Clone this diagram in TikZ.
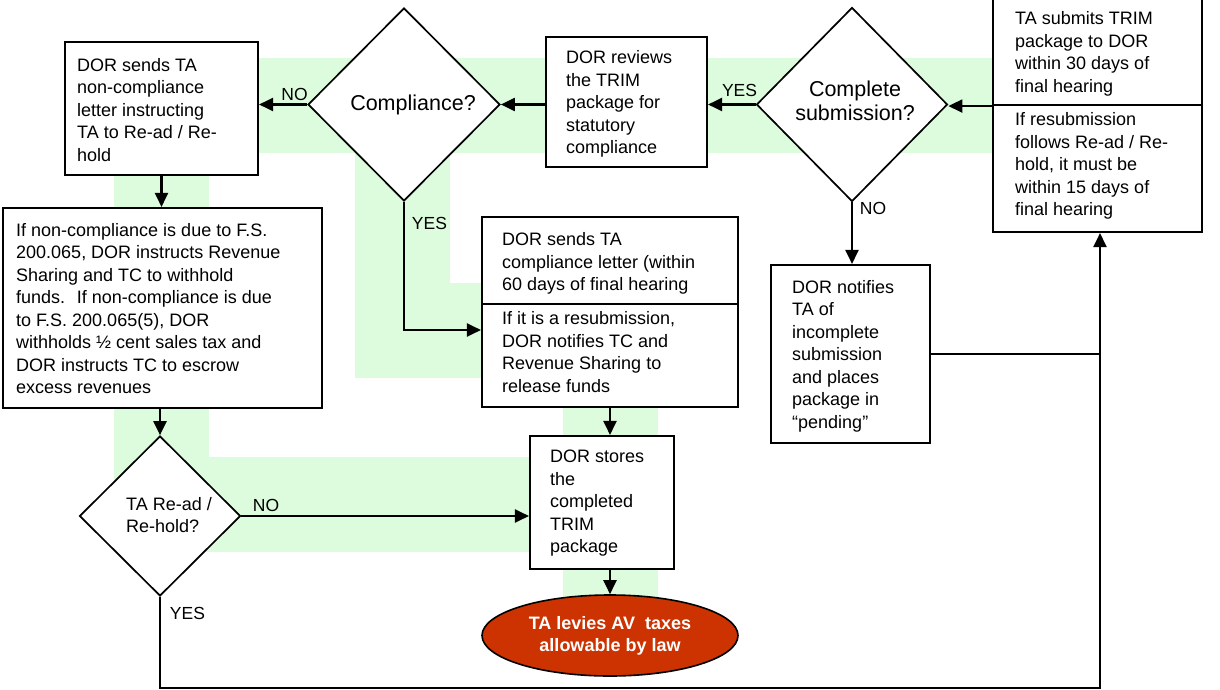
\documentclass[tikz,border=0pt]{standalone}
\usepackage{fontspec}
\setmainfont{Liberation Sans}
\usetikzlibrary{shapes.geometric,arrows.meta}
\definecolor{bandgreen}{RGB}{221,252,221}
\definecolor{ovalred}{RGB}{204,51,0}
\begin{document}
\begin{tikzpicture}[x=1pt,y=-1pt,
  box/.style={draw, line width=2.1pt, fill=white, rectangle, inner sep=0pt},
  dia/.style={draw, line width=1.7pt, fill=white, diamond, aspect=1, inner sep=0pt},
  txt/.style={font=\fontsize{18}{22.5}\selectfont, align=left, inner sep=0pt, anchor=west},
  lbl/.style={font=\fontsize{17.5}{21}\selectfont, inner sep=0pt},
  arr/.style={line width=2.1pt, -{Triangle[length=14pt,width=13pt]}},
  ln/.style={line width=2.1pt},
  band/.style={draw=bandgreen, line width=95pt, line join=miter}]

\useasboundingbox (0,0) rectangle (1220,690);

% green background band
\draw[band] (1100,105.5) -- (161.5,105.5) -- (161.5,504) -- (610,504);
\draw[band] (402,105.5) -- (402,330) -- (610,330) -- (610,630);

% boxes
\node[box, minimum width=193pt, minimum height=133pt] (bA) at (161.5,108.5) {};
\node[box, minimum width=319pt, minimum height=200pt] (bB) at (162.5,308) {};
\node[box, minimum width=161pt, minimum height=130pt] (rev) at (626.5,102) {};
\node[box, minimum width=209pt, minimum height=108pt] (ta1) at (1097.5,51) {};
\node[box, minimum width=209pt, minimum height=127pt] (ta2) at (1097.5,168.5) {};
\node[box, minimum width=256pt, minimum height=87pt] (cl1) at (610,260.5) {};
\node[box, minimum width=256pt, minimum height=103pt] (cl2) at (610,355.5) {};
\node[box, minimum width=159pt, minimum height=178pt] (nt) at (850.5,354) {};
\node[box, minimum width=144pt, minimum height=133pt] (st) at (602,502.5) {};
\node[draw, line width=1.6pt, fill=ovalred, ellipse, inner sep=0pt,
      minimum width=256pt, minimum height=81pt, text=white,
      font=\bfseries\fontsize{18}{22}\selectfont, align=center] (ov) at (610,635.5)
      {TA levies AV~ taxes\\allowable by law};

% diamonds
\node[dia, minimum width=192pt, minimum height=193pt] (cmp) at (404,104.5) {};
\node[dia, minimum width=191pt, minimum height=194pt] (cs) at (852,104.5) {};
\node[dia, minimum width=161pt, minimum height=160pt] (tr) at (160,516) {};

% texts
\node[txt] (tA) at (77,110) {DOR sends TA\\non-compliance\\letter instructing\\TA to Re-ad / Re-\\hold};
\node[txt] (tB) at (16,308.5) {If non-compliance is due to F.S.\\200.065, DOR instructs Revenue\\Sharing and TC to withhold\\funds.~ If non-compliance is due\\to F.S. 200.065(5), DOR\\withholds ½ cent sales tax and\\DOR instructs TC to escrow\\excess revenues};
\node[txt] (tRev) at (566,104) {DOR reviews\\the TRIM\\package for\\statutory\\compliance};
\node[txt] (tTa1) at (1015,54) {TA submits TRIM\\package to DOR\\within 30 days of\\final hearing};
\node[txt] (tTa2) at (1015,166) {If resubmission\\follows Re-ad / Re-\\hold, it must be\\within 15 days of\\final hearing};
\node[txt] (tCl1) at (502,263.5) {DOR sends TA\\compliance letter (within\\60 days of final hearing};
\node[txt] (tCl2) at (502,352) {If it is a resubmission,\\DOR notifies TC and\\Revenue Sharing to\\release funds};
\node[txt] (tNt) at (792,356) {DOR notifies\\TA of\\incomplete\\submission\\and places\\package in\\``pending''};
\node[txt] (tSt) at (550,503.5) {DOR stores\\the\\completed\\TRIM\\package};
\node[txt] (tTr) at (126,515) {TA Re-ad /\\Re-hold?};
\node[font=\fontsize{21.5}{24}\selectfont, inner sep=0pt] (tCmp) at (413,105) {Compliance?};
\node[font=\fontsize{21.5}{24}\selectfont, inner sep=0pt, align=center] (tCs) at (855,101) {Complete\\submission?};

% labels
\node[lbl] (lNo1) at (294.5,94) {NO};
\node[lbl] (lYes1) at (429.5,223) {YES};
\node[lbl] (lYes2) at (739.5,90) {YES};
\node[lbl] (lNo2) at (873,208) {NO};
\node[lbl] (lNo3) at (266,505) {NO};
\node[lbl] (lYes3) at (187.5,613) {YES};

% helper coordinates
\coordinate (up) at (1100,688);
\coordinate (vx) at (610,0);
\coordinate (yl) at (0,330);

% connectors
\draw[arr] (ta1.south west) -- (cs.east |- ta1.south west);
\draw[arr] (cs.west) -- (rev.east |- cs.west);
\draw[arr] (rev.west |- cmp.east) -- (cmp.east);
\draw[arr] (cmp.west) -- (bA.east |- cmp.west);
\draw[arr] (bA.south) -- (bA.south |- bB.north);
\draw[arr] (tr.north |- bB.south) -- (tr.north);
\draw[arr] (tr.east) -- (st.west |- tr.east);
\draw[arr] (tr.south) |- (up) -- (up |- ta2.south);
\draw[ln] (nt.east) -- (up |- nt.east);
\draw[arr] (cs.south) -- (cs.south |- nt.north);
\draw[arr] (cmp.south) |- (cl2.west |- yl);
\draw[arr] (cl2.south -| vx) -- (st.north -| vx);
\draw[arr] (st.south -| vx) -- (ov.north);
\end{tikzpicture}
\end{document}
